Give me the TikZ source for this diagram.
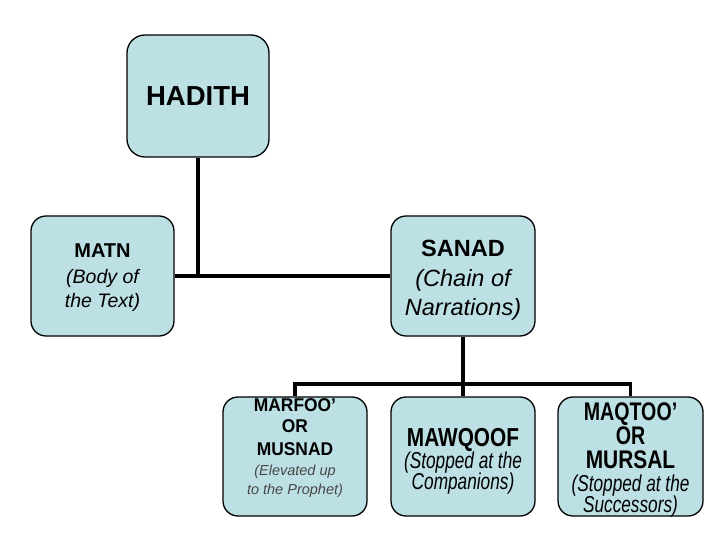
\documentclass[tikz,border=0pt]{standalone}
\usepackage{fontspec}
\usepackage{graphicx}
\setmainfont{Liberation Sans}
\definecolor{boxfill}{RGB}{189,224,229}
\tikzset{
  card/.style={draw=black, line width=1.3pt, fill=boxfill, rounded corners=15pt, inner sep=0pt},
  lbl/.style={anchor=base, inner sep=0pt, text=black},
  conn/.style={line width=3.3pt, draw=black},
}
\newcommand{\cond}[2]{\scalebox{#1}[1]{#2}}
\begin{document}
\begin{tikzpicture}[x=1pt,y=-1pt]
\useasboundingbox (0,0) rectangle (720,540);
\fill[white] (0,0) rectangle (720,540);

% boxes
\node[card, minimum width=142pt, minimum height=122pt, rounded corners=18pt] (hadith) at (198,96) {};
\node[card, minimum width=143pt, minimum height=120pt] (matn) at (102.5,276) {};
\node[card, minimum width=144pt, minimum height=120pt] (sanad) at (463,276) {};
\node[card, minimum width=144pt, minimum height=119pt] (b1) at (295,456.5) {};
\node[card, minimum width=144pt, minimum height=119pt] (b2) at (463,456.5) {};
\node[card, minimum width=145pt, minimum height=119pt] (b3) at (630.5,456.5) {};

% connectors
\draw[conn] (hadith.south) -- (hadith.south |- matn.east);
\draw[conn] (matn.east) -- (sanad.west);
\coordinate (bar) at (463,384);
\draw[conn] (sanad.south) -- (b2.north);
\draw[conn] (b1.north) |- (bar) -| (b3.north);

% texts
\node[lbl, font=\fontsize{27.5}{30}\selectfont\bfseries] (tH) at (198,106) {HADITH};

\node[lbl, font=\fontsize{20}{22}\selectfont\bfseries] (tM1) at (102.5,258) {MATN};
\node[lbl, font=\fontsize{19.5}{22}\selectfont\itshape] (tM2) at (102.5,283) {(Body of};
\node[lbl, font=\fontsize{19.5}{22}\selectfont\itshape] (tM3) at (102.5,307) {the Text)};

\node[lbl, font=\fontsize{23.5}{26}\selectfont\bfseries] (tS1) at (463,256) {SANAD};
\node[lbl, font=\fontsize{23.5}{26}\selectfont\itshape] (tS2) at (463,286) {(Chain of};
\node[lbl, font=\fontsize{23.5}{26}\selectfont\itshape] (tS3) at (463,315) {Narrations)};

\node[lbl, font=\fontsize{18.5}{20}\selectfont\bfseries] (t11) at (295,411.5) {\cond{0.94}{MARFOO’}};
\node[lbl, font=\fontsize{18.5}{20}\selectfont\bfseries] (t12) at (295,432.5) {\cond{0.94}{OR}};
\node[lbl, font=\fontsize{18.5}{20}\selectfont\bfseries] (t13) at (295,455.5) {\cond{0.94}{MUSNAD}};
\node[lbl, font=\fontsize{14.5}{16}\selectfont\itshape, text=black!72] (t14) at (295,475) {(Elevated up};
\node[lbl, font=\fontsize{14.5}{16}\selectfont\itshape, text=black!72] (t15) at (295,494.5) {to the Prophet)};

\node[lbl, font=\fontsize{26}{28}\selectfont\bfseries] (t21) at (463,446) {\cond{0.8}{MAWQOOF}};
\node[lbl, font=\fontsize{23}{25}\selectfont\itshape] (t22) at (463,468) {\cond{0.75}{(Stopped at the}};
\node[lbl, font=\fontsize{23}{25}\selectfont\itshape] (t23) at (463,489) {\cond{0.75}{Companions)}};

\node[lbl, font=\fontsize{25.5}{28}\selectfont\bfseries] (t31) at (630.5,420) {\cond{0.77}{MAQTOO’}};
\node[lbl, font=\fontsize{25.5}{28}\selectfont\bfseries] (t32) at (630.5,444) {\cond{0.77}{OR}};
\node[lbl, font=\fontsize{25.5}{28}\selectfont\bfseries] (t33) at (630.5,468) {\cond{0.82}{MURSAL}};
\node[lbl, font=\fontsize{23}{25}\selectfont\itshape] (t34) at (630.5,491) {\cond{0.75}{(Stopped at the}};
\node[lbl, font=\fontsize{23}{25}\selectfont\itshape] (t35) at (630.5,512) {\cond{0.75}{Successors)}};
\end{tikzpicture}
\end{document}
